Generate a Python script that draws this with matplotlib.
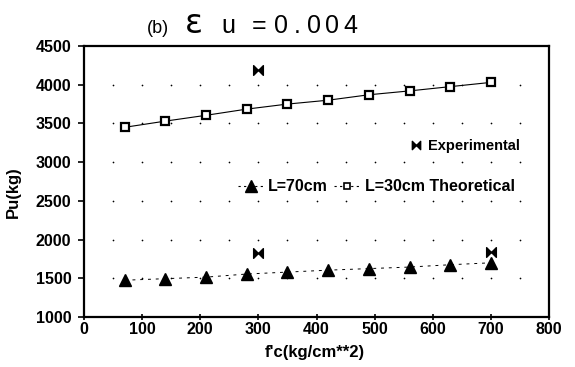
# -*- coding: utf-8 -*-
# (b) eps_u = 0.004 : charge ultime Pu en fonction de f'c
import numpy as np
import matplotlib.pyplot as plt
from matplotlib.path import Path
from matplotlib.lines import Line2D

# f'c (kg/cm**2) des points theoriques
fc = [70, 140, 210, 280, 350, 420, 490, 560, 630, 700]
# L = 30 cm theorique
pu_30 = [3450, 3530, 3605, 3685, 3750, 3800, 3870, 3920, 3975, 4030]
# L = 70 cm theorique
pu_70 = [1475, 1495, 1515, 1555, 1580, 1605, 1625, 1645, 1675, 1700]
# essais
fc_exp = [300, 300, 700]
pu_exp = [4190, 1830, 1840]

x_ticks = [0, 100, 200, 300, 400, 500, 600, 700, 800]
y_ticks = [1000, 1500, 2000, 2500, 3000, 3500, 4000, 4500]

# marqueur "noeud papillon" pour les essais
bowtie = Path([(-1, -1), (-1, 1), (0, 0), (1, 1), (1, -1), (0, 0), (-1, -1)],
              [Path.MOVETO, Path.LINETO, Path.LINETO, Path.LINETO,
               Path.LINETO, Path.LINETO, Path.CLOSEPOLY])

plt.rcParams['font.family'] = ['Liberation Sans', 'DejaVu Sans']

W, H = 575.0, 367.0
fig = plt.figure(figsize=(5.75, 3.67), dpi=100)
ax = fig.add_axes([84 / W, 1 - 317 / H, 465 / W, 271 / H])

# grille en pointilles (un point a chaque intersection)
gx, gy = np.meshgrid(np.arange(50, 800, 50), np.arange(1500, 4500, 500))
ax.scatter(gx.ravel(), gy.ravel(), s=1.5, color='black', linewidths=0, zorder=1)

ax.plot(fc, pu_30, color='black', lw=0.8, ls='-', marker='s', ms=6,
        mfc='white', mec='black', mew=1.6, zorder=3)
ax.plot(fc, pu_70, color='black', lw=0.7, ls=(0, (3, 5)), marker='^', ms=9,
        mfc='black', mec='black', zorder=3)
ax.plot(fc_exp, pu_exp, ls='none', marker=bowtie, ms=7, color='black', zorder=4)

ax.set_xlim(0, 800)
ax.set_ylim(1000, 4500)
ax.set_xticks(x_ticks)
ax.set_yticks(y_ticks)
for lab in ax.get_xticklabels() + ax.get_yticklabels():
    lab.set_fontweight('bold')
    lab.set_fontsize(11.5)
ax.tick_params(axis='y', direction='out', length=4, width=1.2, pad=5)
ax.tick_params(axis='x', direction='inout', length=5, width=1.2, pad=1)
for s in ax.spines.values():
    s.set_linewidth(1.6)

ax.set_xlabel("f'c(kg/cm**2)", fontsize=12, fontweight='bold')
ax.xaxis.set_label_coords((315 - 84) / 465, -(345 - 317) / 271)
ax.set_ylabel("Pu(kg)", fontsize=12, fontweight='bold')
ax.yaxis.set_label_coords(-(84 - 21) / 465, (317 - 192) / 271)

# legendes
h_exp = Line2D([], [], ls='none', marker=bowtie, ms=6, color='black')
leg1 = ax.legend([h_exp], ['Experimental'], loc='center left',
                 bbox_to_anchor=(0.674, 0.63), frameon=False,
                 handlelength=0.8, handletextpad=0.4,
                 prop={'weight': 'bold', 'size': 10.5})
ax.add_artist(leg1)
h70 = Line2D([], [], color='black', lw=0.8, ls=(0, (2, 3)), marker='^',
             ms=8, mfc='black')
h30 = Line2D([], [], color='black', lw=0.8, ls=(0, (2, 3)), marker='s',
             ms=5, mfc='white', mew=1.2)
ax.legend([h70, h30], ['L=70cm', 'L=30cm Theoretical'], loc='center left',
          bbox_to_anchor=(0.3, 0.48), frameon=False, ncol=2,
          handlelength=1.6, handletextpad=0.3, columnspacing=0.4,
          prop={'weight': 'bold', 'size': 11.5})

# titre (caracteres espaces comme sur l'original, meme ligne de base)
y_b = 1 - 33 / H
fig.text(158 / W, y_b, "(b)", fontsize=13, ha='center', va='baseline')
fig.text(194 / W, y_b, "\u03b5", fontsize=24, ha='center', va='baseline',
         family='DejaVu Sans')
fig.text(228 / W, y_b, "u", fontsize=18, ha='center', va='baseline')
for ch, xc in zip("=0.004", [259, 281, 297, 314, 332, 350]):
    fig.text(xc / W, y_b, ch, fontsize=18, ha='center', va='baseline')

fig.savefig("out.png", dpi=100)
